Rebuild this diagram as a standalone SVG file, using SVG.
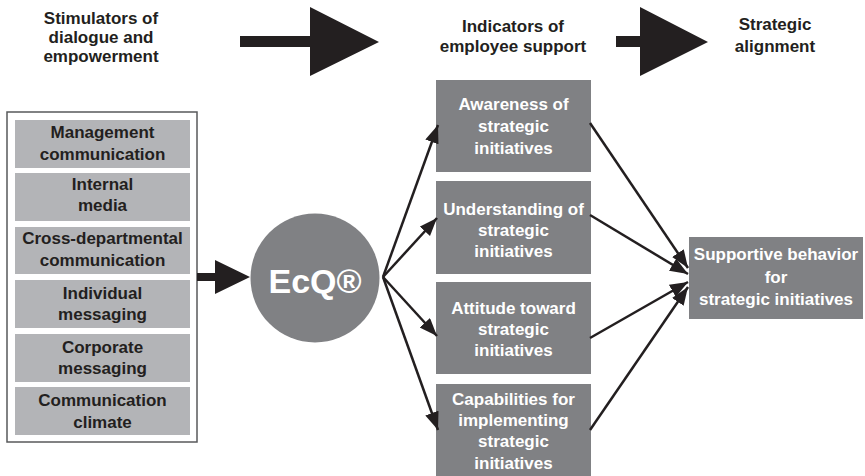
<svg xmlns="http://www.w3.org/2000/svg" width="865" height="476" viewBox="0 0 865 476">
  <defs>
    <style>
      .t { font-family: "Liberation Sans", Arial, Helvetica, sans-serif; font-weight: bold; font-size: 17px; text-anchor: middle; }
      .dark { fill: #231f20; }
      .light { fill: #ffffff; }
      .lbox { fill: #b3b4b7; }
      .dbox { fill: #808184; }
      .conn { stroke: #231f20; stroke-width: 2.5; fill: none; marker-end: url(#ah); }
      .big { fill: #231f20; }
    </style>
    <marker id="ah" markerUnits="userSpaceOnUse" markerWidth="19" markerHeight="15" refX="18" refY="7" orient="auto">
      <path d="M0,0 L18,7 L0,14 z" fill="#231f20"/>
    </marker>
  </defs>
  <rect width="865" height="476" fill="#ffffff"/>

  <g id="headers">
    <text class="t dark" x="101" y="24">Stimulators of</text>
    <text class="t dark" x="101" y="43">dialogue and</text>
    <text class="t dark" x="101" y="62">empowerment</text>
    <text class="t dark" x="513" y="32">Indicators of</text>
    <text class="t dark" x="513" y="52">employee support</text>
    <text class="t dark" x="775" y="30">Strategic</text>
    <text class="t dark" x="775" y="52">alignment</text>
    <polygon class="big" points="240,36 310,36 310,7 379,42 310,76 310,47 240,47"/>
    <polygon class="big" points="616,36 640,36 640,7 708,42 640,76 640,47 616,47"/>
  </g>

  <g id="stimulators">
    <rect x="7" y="112" width="190" height="330" fill="#ffffff" stroke="#58595b" stroke-width="1.5"/>
    <g id="s1">
      <rect class="lbox" x="15" y="120" width="175" height="48"/>
      <text class="t dark" x="102.5" y="138">Management</text>
      <text class="t dark" x="102.5" y="160">communication</text>
    </g>
    <g id="s2">
      <rect class="lbox" x="15" y="173" width="175" height="48"/>
      <text class="t dark" x="102.5" y="190">Internal</text>
      <text class="t dark" x="102.5" y="211">media</text>
    </g>
    <g id="s3">
      <rect class="lbox" x="15" y="227" width="175" height="47"/>
      <text class="t dark" x="102.5" y="244">Cross-departmental</text>
      <text class="t dark" x="102.5" y="266">communication</text>
    </g>
    <g id="s4">
      <rect class="lbox" x="15" y="280" width="175" height="48"/>
      <text class="t dark" x="102.5" y="299">Individual</text>
      <text class="t dark" x="102.5" y="320">messaging</text>
    </g>
    <g id="s5">
      <rect class="lbox" x="15" y="334" width="175" height="48"/>
      <text class="t dark" x="102.5" y="353">Corporate</text>
      <text class="t dark" x="102.5" y="374">messaging</text>
    </g>
    <g id="s6">
      <rect class="lbox" x="15" y="387" width="175" height="48"/>
      <text class="t dark" x="102.5" y="406">Communication</text>
      <text class="t dark" x="102.5" y="428">climate</text>
    </g>
  </g>

  <g id="ecq">
    <circle cx="315" cy="278" r="64.5" fill="#808184"/>
    <text x="315" y="293" font-family="Liberation Sans, Arial, sans-serif" font-weight="bold" font-size="34" text-anchor="middle" fill="#ffffff">EcQ®</text>
  </g>

  <g id="i1">
    <rect class="dbox" x="436" y="80" width="155" height="92"/>
    <text class="t light" x="513.5" y="110">Awareness of</text>
    <text class="t light" x="513.5" y="132">strategic</text>
    <text class="t light" x="513.5" y="154">initiatives</text>
  </g>
  <g id="i2">
    <rect class="dbox" x="436" y="181" width="155" height="93"/>
    <text class="t light" x="513.5" y="215">Understanding of</text>
    <text class="t light" x="513.5" y="236">strategic</text>
    <text class="t light" x="513.5" y="257">initiatives</text>
  </g>
  <g id="i3">
    <rect class="dbox" x="436" y="282" width="155" height="92"/>
    <text class="t light" x="513.5" y="314">Attitude toward</text>
    <text class="t light" x="513.5" y="335">strategic</text>
    <text class="t light" x="513.5" y="356">initiatives</text>
  </g>
  <g id="i4">
    <rect class="dbox" x="436" y="384" width="155" height="92"/>
    <text class="t light" x="513.5" y="405">Capabilities for</text>
    <text class="t light" x="513.5" y="426">implementing</text>
    <text class="t light" x="513.5" y="447">strategic</text>
    <text class="t light" x="513.5" y="469">initiatives</text>
  </g>

  <g id="outcome">
    <rect class="dbox" x="689" y="237" width="174" height="82"/>
    <text class="t light" x="776" y="260">Supportive behavior</text>
    <text class="t light" x="776" y="283">for</text>
    <text class="t light" x="776" y="305">strategic initiatives</text>
  </g>

  <g id="connectors">
    <polygon class="big" points="197,273 215,273 215,260 250,277 215,294 215,281 197,281"/>
    <line class="conn" x1="383" y1="277" x2="438" y2="125"/>
    <line class="conn" x1="383" y1="277" x2="437" y2="218"/>
    <line class="conn" x1="383" y1="277" x2="437" y2="336"/>
    <line class="conn" x1="383" y1="277" x2="438" y2="430"/>
    <line class="conn" x1="590" y1="123" x2="688" y2="268"/>
    <line class="conn" x1="590" y1="215" x2="688" y2="274"/>
    <line class="conn" x1="590" y1="338" x2="688" y2="282"/>
    <line class="conn" x1="590" y1="430" x2="688" y2="287"/>
  </g>
</svg>
